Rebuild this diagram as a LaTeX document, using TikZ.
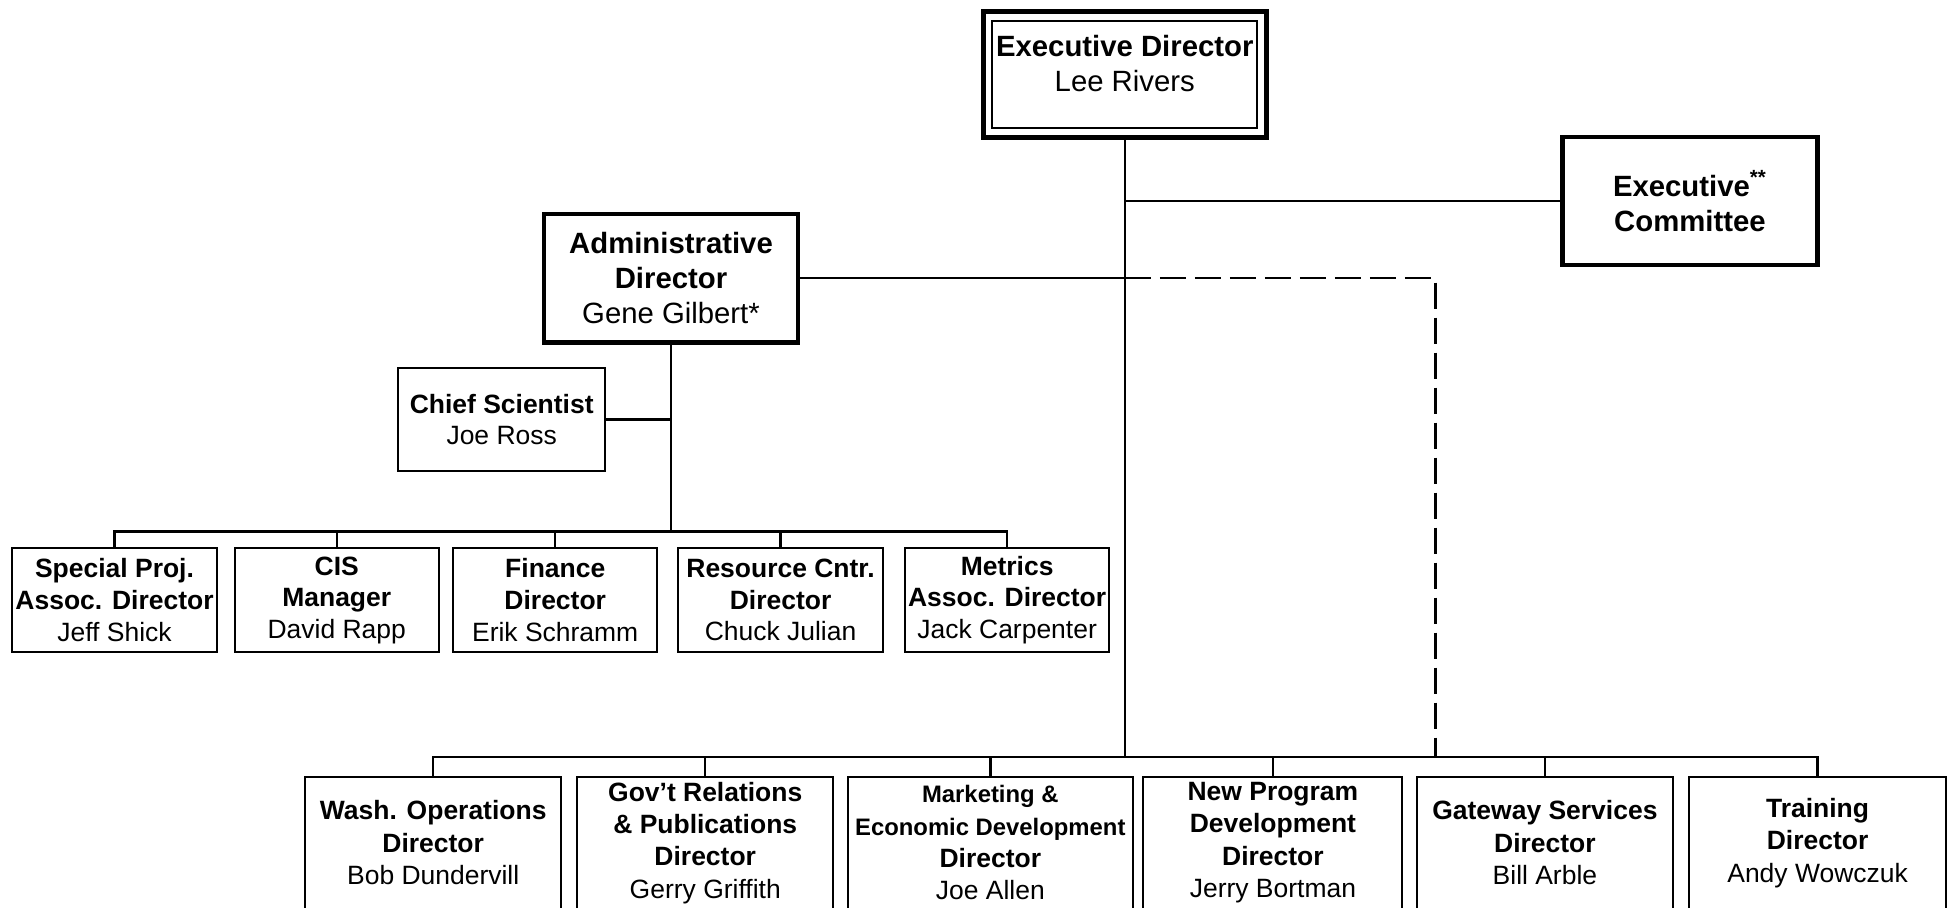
\documentclass[tikz,border=0pt]{standalone}
\usepackage{fontspec}
\setmainfont{Liberation Sans}
\usetikzlibrary{fit}

\begin{document}
\begin{tikzpicture}[
    box/.style={draw, line width=0.9pt, align=center, inner sep=1pt,
      font=\fontsize{12.1}{14.4}\selectfont},
    bigbox/.style={box, line width=2pt, font=\fontsize{13.4}{15.9}\selectfont},
    edframe/.style={draw, line width=2.3pt, inner sep=0.13cm},
    rowa/.style={box, minimum width=3.28cm, minimum height=1.68cm},
    rowb/.style={box, minimum width=4.12cm, minimum height=2.12cm,
      font=\fontsize{12.1}{14.8}\selectfont},
    link/.style={line width=1.1pt},
    dashlink/.style={line width=1.1pt, dash pattern=on 12pt off 4pt}
  ]
        \def \rowa {4.94}
        \def \rowb {1.04}
        \useasboundingbox (0,0) rectangle (31.36,14.58);

        % top of the chart
        \node[box, line width=1pt, minimum width=4.26cm, minimum height=1.72cm,
          font=\fontsize{13.4}{15.9}\selectfont] (ed) at (18.07,13.38)
          {\textbf{Executive Director}\\Lee Rivers\\[-2mm]\mbox{}};
        \node[edframe, fit=(ed)] (edf) {};
        \node[bigbox, minimum width=4.10cm, minimum height=2.06cm] (ec) at (27.15,11.35)
          {\textbf{Executive\textsuperscript{**}}\\\textbf{Committee}};
        \node[bigbox, minimum width=4.08cm, minimum height=2.06cm] (adm) at (10.78,10.11)
          {\textbf{Administrative}\\\textbf{Director}\\Gene Gilbert*};
        \node[box, minimum width=3.32cm, minimum height=1.64cm] (cs) at (8.06,7.84)
          {\textbf{Chief Scientist}\\Joe Ross};

        % first row
        \node[rowa] (sp) at (1.84,\rowa) {\textbf{Special Proj.}\\\textbf{Assoc. Director}\\Jeff Shick};
        \node[rowa] (cis) at (5.41,\rowa) {\textbf{CIS}\\\textbf{Manager}\\David Rapp};
        \node[rowa] (fin) at (8.92,\rowa) {\textbf{Finance}\\\textbf{Director}\\Erik Schramm};
        \node[rowa] (rc) at (12.54,\rowa) {\textbf{Resource Cntr.}\\\textbf{Director}\\Chuck Julian};
        \node[rowa] (met) at (16.18,\rowa) {\textbf{Metrics}\\\textbf{Assoc. Director}\\Jack Carpenter};

        % second row
        \node[rowb, minimum width=4.11cm] (wash) at (6.96,\rowb)
          {\textbf{Wash. Operations}\\\textbf{Director}\\Bob Dundervill};
        \node[rowb] (govt) at (11.33,\rowb)
          {\textbf{Gov’t Relations}\\\textbf{\& Publications}\\\textbf{Director}\\Gerry Griffith};
        \node[rowb, minimum width=4.58cm] (mkt) at (15.91,\rowb)
          {{\fontsize{10.9}{13}\selectfont\textbf{Marketing \&}}\\
           {\fontsize{10.9}{13}\selectfont\textbf{Economic Development}}\\
           \textbf{Director}\\Joe Allen};
        \node[rowb, minimum width=4.16cm] (npd) at (20.45,\rowb)
          {\textbf{New Program}\\\textbf{Development}\\\textbf{Director}\\Jerry Bortman};
        \node[rowb] (gate) at (24.82,\rowb)
          {\textbf{Gateway Services}\\\textbf{Director}\\Bill Arble};
        \node[rowb] (train) at (29.20,\rowb)
          {\textbf{Training}\\\textbf{Director}\\Andy Wowczuk};

        \coordinate (b1) at (0,6.04);
        \coordinate (b2) at (0,2.42);
        \coordinate (dl) at (23.06,0);

        % connectors
        \draw[link] (edf.south) -- (edf.south |- b2);
        \draw[link] (edf.south |- ec.west) -- (ec.west);
        \draw[link] (adm.east) -- (adm.east -| edf.south);
        \draw[dashlink] (adm.east -| edf.south) -| (dl |- b2);
        \draw[link] (adm.south) -- (adm.south |- b1);
        \draw[link] (cs.east) -- (cs.east -| adm.south);

        \draw[link] (sp.north) |- (met.north |- b1) -- (met.north);
        \foreach \n in {cis, fin, rc}
          \draw[link] (\n.north) -- (\n.north |- b1);

        \draw[link] (wash.north) |- (train.north |- b2) -- (train.north);
        \foreach \n in {govt, mkt, npd, gate}
          \draw[link] (\n.north) -- (\n.north |- b2);
      \end{tikzpicture}
\end{document}
